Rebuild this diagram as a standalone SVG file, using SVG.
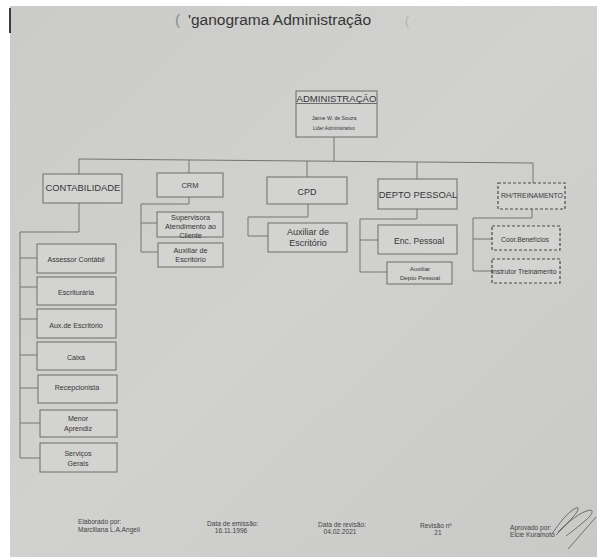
<svg xmlns="http://www.w3.org/2000/svg" width="597" height="558" viewBox="0 0 597 558">
  <defs>
    <linearGradient id="paper" x1="0" y1="0" x2="1" y2="1">
      <stop offset="0" stop-color="#cbcbc9"/>
      <stop offset="0.5" stop-color="#d1d1cf"/>
      <stop offset="1" stop-color="#c9c9c7"/>
    </linearGradient>
    <style>
      text { font-family: "Liberation Sans", Arial, sans-serif; fill: #363636; }
      .box { fill: #d3d3d1; stroke: #6c6c6c; stroke-width: 1; }
      .dash { fill: #d3d3d1; stroke: #4a4a4a; stroke-width: 1.2; stroke-dasharray: 3 2; }
      .conn { fill: none; stroke: #747474; stroke-width: 1; }
      .c { text-anchor: middle; }
      .foot { font-size: 6.6px; fill: #444; }
    </style>
  </defs>

  <!-- sheet -->
  <rect x="0" y="0" width="597" height="558" fill="#ffffff"/>
  <rect x="10" y="6" width="587" height="551" fill="url(#paper)"/>
  <rect x="9" y="8" width="2" height="25" fill="#3c3c3c"/>

  <!-- title -->
  <g id="title">
    <text x="175" y="25" font-size="15.5" style="fill:#8a8a8a">(</text>
    <text x="188" y="25" font-size="15.5">'ganograma Administração</text>
    <text x="405" y="25" font-size="12" style="fill:#b0b0b0">(</text>
  </g>

  <!-- connectors -->
  <g id="connectors" class="conn">
    <path d="M334 137 V161"/>
    <path d="M79 159 L533 163"/>
    <path d="M79 159 V174 M189 160 V173 M307 161 V177 M417 162 V179 M533 163 V183"/>
    <!-- contabilidade -->
    <path d="M79 203 V232 H20 V458"/>
    <path d="M20 258 H37 M20 287 H37 M20 319 H37 M20 355 H37 M20 388 H38 M20 423 H40 M20 458 H40"/>
    <!-- crm -->
    <path d="M189 197 V204 H141 V252 H158 M141 223 H157"/>
    <!-- cpd -->
    <path d="M308 204 V217 H248 V236 H268"/>
    <!-- depto pessoal -->
    <path d="M417 209 V219 H360 V272 H387 M360 240 H378"/>
    <!-- rh -->
    <path d="M532 209 V218 H473 V271 H492 M473 239 H492"/>
  </g>

  <!-- top -->
  <g id="administracao">
    <rect class="box" x="296" y="91" width="81" height="46"/>
    <line x1="296" y1="103.5" x2="377" y2="103.5" stroke="#6c6c6c"/>
    <text class="c" x="336.5" y="102" font-size="9.6">ADMINISTRAÇÃO</text>
    <text class="c" x="334" y="120" font-size="5.2">Jaime W. de Souza</text>
    <text class="c" x="334" y="130" font-size="4.8">Lider Administrativo</text>
  </g>

  <!-- departments -->
  <g id="contabilidade">
    <rect class="box" x="43" y="174" width="79" height="29"/>
    <text x="45.5" y="191" font-size="9.4">CONTABILIDADE</text>
  </g>
  <g id="crm">
    <rect class="box" x="157" y="173" width="66" height="24"/>
    <text class="c" x="190" y="188" font-size="7.5">CRM</text>
  </g>
  <g id="cpd">
    <rect class="box" x="267" y="177" width="80" height="27"/>
    <text class="c" x="307" y="195" font-size="9">CPD</text>
  </g>
  <g id="depto-pessoal">
    <rect class="box" x="378" y="179" width="79" height="30"/>
    <text class="c" x="418" y="197.5" font-size="9.4">DEPTO PESSOAL</text>
  </g>
  <g id="rh-treinamento">
    <rect class="dash" x="498" y="183" width="67" height="26"/>
    <text class="c" x="532" y="198" font-size="6.9">RH/TREINAMENTO</text>
  </g>

  <!-- contabilidade staff -->
  <g id="assessor-contabil">
    <rect class="box" x="37" y="244" width="79" height="29"/>
    <text class="c" x="76" y="261.5" font-size="7.1">Assessor Contábil</text>
  </g>
  <g id="escrituraria">
    <rect class="box" x="37" y="277" width="79" height="28"/>
    <text class="c" x="76" y="294.5" font-size="7.1">Escriturária</text>
  </g>
  <g id="aux-escritorio-contab">
    <rect class="box" x="37" y="309" width="79" height="29"/>
    <text class="c" x="76" y="327.5" font-size="7.1">Aux.de Escritório</text>
  </g>
  <g id="caixa">
    <rect class="box" x="37" y="342" width="79" height="28"/>
    <text class="c" x="76" y="359.5" font-size="7.1">Caixa</text>
  </g>
  <g id="recepcionista">
    <rect class="box" x="38" y="375" width="79" height="28"/>
    <text class="c" x="77" y="389.5" font-size="7.1">Recepcionista</text>
  </g>
  <g id="menor-aprendiz">
    <rect class="box" x="40" y="410" width="77" height="27"/>
    <text class="c" x="78" y="420.5" font-size="7.1">Menor</text>
    <text class="c" x="78" y="430.5" font-size="7.1">Aprendiz</text>
  </g>
  <g id="servicos-gerais">
    <rect class="box" x="40" y="443" width="77" height="29"/>
    <text class="c" x="78" y="455.5" font-size="7.1">Serviços</text>
    <text class="c" x="78" y="465.5" font-size="7.1">Gerais</text>
  </g>

  <!-- crm staff -->
  <g id="supervisora">
    <rect class="box" x="157" y="212" width="66" height="25"/>
    <text class="c" x="190.5" y="219.5" font-size="7.3">Supervisora</text>
    <text class="c" x="190.5" y="228.5" font-size="7.3">Atendimento ao</text>
    <text class="c" x="190.5" y="237.5" font-size="7.3">Cliente</text>
  </g>
  <g id="aux-escritorio-crm">
    <rect class="box" x="158" y="243" width="65" height="24"/>
    <text class="c" x="190.5" y="252.5" font-size="7.3">Auxiliar de</text>
    <text class="c" x="190.5" y="261.5" font-size="7.3">Escritório</text>
  </g>

  <!-- cpd staff -->
  <g id="aux-escritorio-cpd">
    <rect class="box" x="268" y="223" width="79" height="29"/>
    <text class="c" x="308" y="235" font-size="9">Auxiliar de</text>
    <text class="c" x="308" y="246" font-size="9">Escritório</text>
  </g>

  <!-- depto pessoal staff -->
  <g id="enc-pessoal">
    <rect class="box" x="378" y="225" width="79" height="29"/>
    <text class="c" x="419" y="244" font-size="8.6">Enc. Pessoal</text>
  </g>
  <g id="aux-depto-pessoal">
    <rect class="box" x="387" y="262" width="65" height="22"/>
    <text class="c" x="420" y="271" font-size="6.2">Auxiliar</text>
    <text class="c" x="420" y="280" font-size="6.2">Depto Pessoal</text>
  </g>

  <!-- rh staff -->
  <g id="coor-beneficios">
    <rect class="dash" x="492" y="226" width="68" height="24"/>
    <text class="c" x="525" y="241.5" font-size="6.8">Coor.Benefícios</text>
  </g>
  <g id="instrutor-treinamento">
    <rect class="dash" x="492" y="259" width="68" height="24"/>
    <text x="491" y="273.5" font-size="6.9">Instrutor Treinamento</text>
  </g>

  <!-- footer -->
  <g id="footer">
    <text class="foot" x="78" y="524">Elaborado  por:</text>
    <text class="foot" x="78" y="531.8">Marciliana L.A.Angeli</text>
    <text class="foot" x="207" y="525.5">Data de emissão:</text>
    <text class="foot c" x="231" y="533.3">16.11.1996</text>
    <text class="foot" x="318" y="526.5">Data de revisão:</text>
    <text class="foot c" x="340" y="534.3">04.02.2021</text>
    <text class="foot" x="420" y="527.5">Revisão nº</text>
    <text class="foot c" x="438" y="535.3">21</text>
    <text class="foot" x="510" y="529.5">Aprovado por:</text>
    <text class="foot" x="510" y="537.3">Elcie Kuramoto</text>
    <path d="M552 534 C560 522 568 512 576 508 C580 506 578 512 572 518 C566 525 560 531 556 535 M558 532 C568 522 580 512 590 510 C594 510 592 515 586 520 C578 527 570 533 566 536 M568 549 C578 538 588 526 596 517" fill="none" stroke="#555" stroke-width="0.8"/>
  </g>
</svg>
